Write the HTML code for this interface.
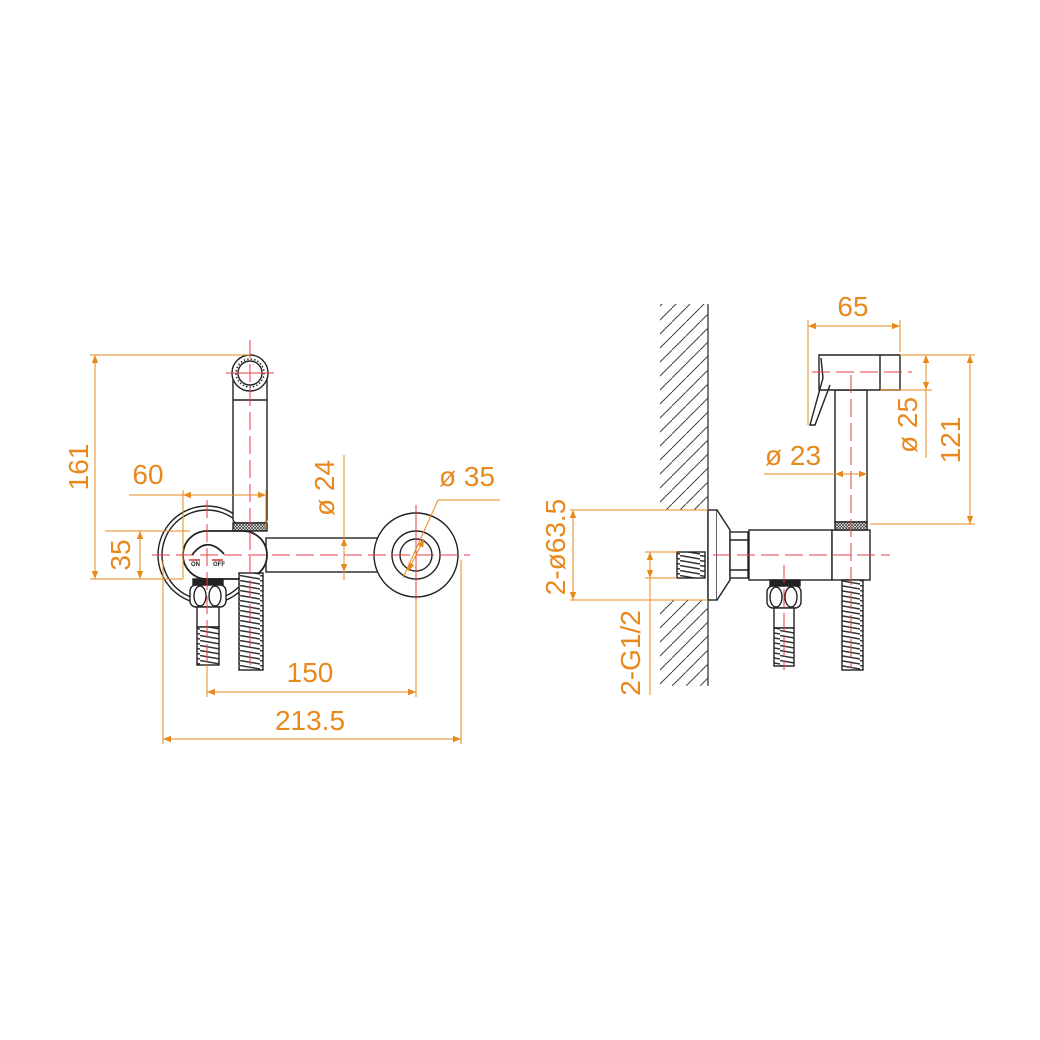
<!DOCTYPE html>
<html><head><meta charset="utf-8"><style>
html,body{margin:0;padding:0;background:#fff;}
svg{display:block}
text{font-family:"Liberation Sans",sans-serif;font-size:28px;fill:#E8891E}
</style></head><body>
<svg width="1040" height="1040" viewBox="0 0 1040 1040" xmlns="http://www.w3.org/2000/svg">
<defs>
<pattern id="hose" width="20" height="5" patternUnits="userSpaceOnUse">
<rect width="20" height="5" fill="#fff"/><line x1="0" y1="0.5" x2="20" y2="4" stroke="#333" stroke-width="1.5"/>
</pattern>
<pattern id="hatch" width="14" height="14" patternUnits="userSpaceOnUse">
<line x1="0" y1="14" x2="14" y2="0" stroke="#444" stroke-width="1"/>
</pattern>
<pattern id="knurl" width="3" height="3" patternUnits="userSpaceOnUse">
<rect width="3" height="3" fill="#fff"/><path d="M0 0L3 3M3 0L0 3" stroke="#333" stroke-width="0.7"/>
</pattern>
<marker id="a" viewBox="0 0 10 10" refX="10" refY="5" markerWidth="12" markerHeight="8" orient="auto-start-reverse" markerUnits="userSpaceOnUse"><path d="M0 1L10 5L0 9z" fill="#E8891E"/></marker>
</defs>

<!-- LEFT VIEW -->
<g fill="none" stroke="#222" stroke-width="1.4">
<circle cx="207" cy="555" r="49" fill="#fff"/>
<circle cx="207" cy="555" r="45"/>
<rect x="233" y="373" width="34" height="150" rx="4" fill="#fff"/>
<circle cx="250" cy="373" r="18" fill="#fff"/>
<circle cx="250" cy="373" r="14" stroke-dasharray="1.5 2"/>
<circle cx="250" cy="373" r="12"/>
<line x1="233" y1="400" x2="267" y2="400"/>
<rect x="233" y="523" width="34" height="8" fill="url(#knurl)"/>
<rect x="266" y="538" width="140" height="34" fill="#fff"/>
<circle cx="416" cy="555" r="42" fill="#fff"/>
<circle cx="416" cy="555" r="24" fill="#fff"/>
<circle cx="416" cy="555" r="16"/>
<rect x="183" y="531" width="84" height="48" rx="24" fill="#fff" stroke-width="1.8"/>
<path d="M192 555 Q207 535 224 554" stroke-width="1.8"/>
<rect x="193" y="579" width="30" height="6" fill="#222"/>
<rect x="190" y="585" width="36" height="22" rx="6" fill="#fff"/>
<ellipse cx="200" cy="596" rx="6" ry="10"/>
<ellipse cx="215" cy="596" rx="6" ry="10"/>
<rect x="197" y="607" width="22" height="20" fill="#fff"/>
<rect x="197" y="627" width="22" height="38" fill="url(#hose)"/>
<rect x="239" y="573" width="24" height="97" fill="url(#hose)"/>
</g>
<text x="191" y="566" style="font-size:6px;fill:#222;font-weight:bold">ON</text>
<text x="213" y="566" style="font-size:6px;fill:#222;font-weight:bold">OFF</text>
<line x1="189" y1="560" x2="200" y2="560" stroke="#c33" stroke-width="1.5"/>
<line x1="212" y1="560" x2="223" y2="560" stroke="#c33" stroke-width="1.5"/>

<g stroke="#E0404A" stroke-width="1" fill="none">
<line x1="250" y1="340" x2="250" y2="665" stroke-dasharray="18 6"/>
<line x1="226" y1="373" x2="274" y2="373"/>
<line x1="207" y1="500" x2="207" y2="665" stroke-dasharray="18 6"/>
<line x1="152" y1="555" x2="470" y2="555" stroke-dasharray="18 6"/>
<line x1="416" y1="505" x2="416" y2="605"/>
</g>

<g stroke="#E8891E" stroke-width="1" fill="none">
<line x1="90" y1="355" x2="250" y2="355"/>
<line x1="90" y1="579" x2="183" y2="579"/>
<line x1="95" y1="355" x2="95" y2="579" marker-start="url(#a)" marker-end="url(#a)"/>
<line x1="105" y1="531" x2="190" y2="531"/>
<line x1="140" y1="531" x2="140" y2="579" marker-start="url(#a)" marker-end="url(#a)"/>
<line x1="129" y1="495" x2="266" y2="495"/>
<line x1="183" y1="495" x2="266" y2="495" marker-start="url(#a)" marker-end="url(#a)"/>
<line x1="183" y1="490" x2="183" y2="579"/>
<line x1="266" y1="490" x2="266" y2="530"/>
<line x1="344" y1="455" x2="344" y2="580"/>
<line x1="344" y1="538" x2="344" y2="572" marker-start="url(#a)" marker-end="url(#a)"/>
<line x1="500" y1="500" x2="438" y2="500"/>
<line x1="438" y1="500" x2="403" y2="578"/>
<line x1="424" y1="539" x2="408" y2="571" marker-start="url(#a)" marker-end="url(#a)"/>
<line x1="207" y1="665" x2="207" y2="697"/>
<line x1="416" y1="600" x2="416" y2="697"/>
<line x1="207" y1="692" x2="416" y2="692" marker-start="url(#a)" marker-end="url(#a)"/>
<line x1="163" y1="560" x2="163" y2="744"/>
<line x1="461" y1="560" x2="461" y2="744"/>
<line x1="163" y1="739" x2="461" y2="739" marker-start="url(#a)" marker-end="url(#a)"/>
</g>
<text transform="translate(88,467) rotate(-90)" text-anchor="middle">161</text>
<text transform="translate(130,555) rotate(-90)" text-anchor="middle">35</text>
<text x="148" y="484" text-anchor="middle">60</text>
<text transform="translate(334,488) rotate(-90)" text-anchor="middle">ø 24</text>
<text x="467" y="486" text-anchor="middle">ø 35</text>
<text x="310" y="682" text-anchor="middle">150</text>
<text x="310" y="730" text-anchor="middle">213.5</text>

<!-- RIGHT VIEW -->
<rect x="660" y="304" width="48" height="206" fill="url(#hatch)"/>
<rect x="660" y="600" width="48" height="86" fill="url(#hatch)"/>
<line x1="708" y1="304" x2="708" y2="686" stroke="#444" stroke-width="1.4"/>
<g fill="none" stroke="#222" stroke-width="1.4">
<rect x="677" y="552" width="28" height="26" fill="url(#hose)"/>
<rect x="708" y="510" width="9" height="90" fill="#fff"/>
<path d="M717 510 L730 530 L730 580 L717 600" fill="#fff"/>
<rect x="730" y="532" width="18" height="46" fill="#fff"/>
<line x1="730" y1="540" x2="748" y2="540"/><line x1="730" y1="570" x2="748" y2="570"/>
<rect x="749" y="530" width="83" height="50" fill="#fff"/>
<rect x="832" y="530" width="38" height="50" fill="#fff"/>
<rect x="835" y="390" width="32" height="132" fill="#fff"/>
<rect x="835" y="522" width="32" height="8" fill="url(#knurl)"/>
<path d="M835 390 Q851 378 867 390"/>
<path d="M819 355 L900 355 L900 390 L819 390 Z" fill="#fff"/>
<line x1="880" y1="355" x2="880" y2="390"/>
<path d="M821 358 L823 378 L810 425 L815 425 L830 385"/>
<rect x="770" y="580" width="30" height="6" fill="#222"/>
<rect x="767" y="586" width="34" height="22" rx="6" fill="#fff"/>
<ellipse cx="776" cy="597" rx="6" ry="10"/>
<ellipse cx="791" cy="597" rx="6" ry="10"/>
<rect x="774" y="608" width="20" height="20" fill="#fff"/>
<rect x="774" y="628" width="20" height="38" fill="url(#hose)"/>
<rect x="842" y="580" width="21" height="90" fill="url(#hose)"/>
</g>
<g stroke="#E0404A" stroke-width="1" fill="none">
<line x1="812" y1="372" x2="912" y2="372" stroke-dasharray="18 6"/>
<line x1="851" y1="375" x2="851" y2="668" stroke-dasharray="18 6"/>
<line x1="713" y1="555" x2="890" y2="555" stroke-dasharray="18 6"/>
<line x1="784" y1="565" x2="784" y2="670" stroke-dasharray="18 6"/>
</g>
<g stroke="#E8891E" stroke-width="1" fill="none">
<line x1="808" y1="320" x2="808" y2="425"/>
<line x1="900" y1="320" x2="900" y2="352"/>
<line x1="808" y1="326" x2="900" y2="326" marker-start="url(#a)" marker-end="url(#a)"/>
<line x1="900" y1="355" x2="975" y2="355"/>
<line x1="880" y1="390" x2="932" y2="390"/>
<line x1="926" y1="355" x2="926" y2="390" marker-start="url(#a)" marker-end="url(#a)"/>
<line x1="926" y1="390" x2="926" y2="458"/>
<line x1="870" y1="524" x2="975" y2="524"/>
<line x1="970" y1="355" x2="970" y2="524" marker-start="url(#a)" marker-end="url(#a)"/>
<line x1="764" y1="474" x2="835" y2="474"/>
<line x1="835" y1="474" x2="867" y2="474" marker-start="url(#a)" marker-end="url(#a)"/>
<line x1="570" y1="510" x2="708" y2="510"/>
<line x1="570" y1="600" x2="708" y2="600"/>
<line x1="573" y1="510" x2="573" y2="600" marker-start="url(#a)" marker-end="url(#a)"/>
<line x1="645" y1="552" x2="677" y2="552"/>
<line x1="645" y1="578" x2="677" y2="578"/>
<line x1="650" y1="552" x2="650" y2="578" marker-start="url(#a)" marker-end="url(#a)"/>
<line x1="650" y1="578" x2="650" y2="695"/>
</g>
<text x="853" y="316" text-anchor="middle">65</text>
<text transform="translate(917,425) rotate(-90)" text-anchor="middle">ø 25</text>
<text transform="translate(960,440) rotate(-90)" text-anchor="middle">121</text>
<text x="793" y="465" text-anchor="middle">ø 23</text>
<text transform="translate(565,547) rotate(-90)" text-anchor="middle">2-ø63.5</text>
<text transform="translate(640,653) rotate(-90)" text-anchor="middle">2-G1/2</text>
</svg>
</body></html>
